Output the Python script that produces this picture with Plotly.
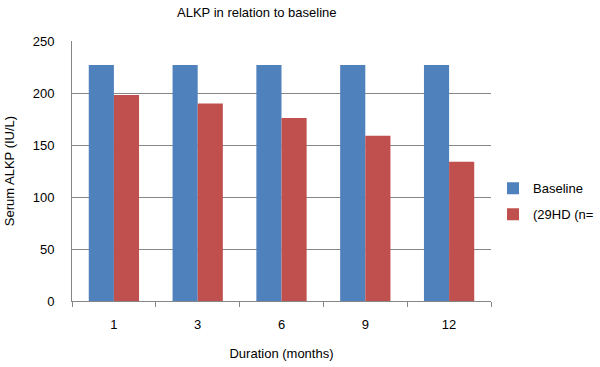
import plotly.graph_objects as go

categories = ["1", "3", "6", "9", "12"]
baseline = [227, 227, 227, 227, 227]
hd29 = [198, 190, 176, 159, 134]
series_names = ["Baseline", "(29HD (n="]
yticks = [0, 50, 100, 150, 200, 250]

FONT = "Liberation Sans"
GRID = "#868686"

fig = go.Figure()
fig.add_trace(go.Bar(x=categories, y=baseline, name=series_names[0],
                     marker=dict(color="#4F81BD", line=dict(width=0)), legendgroup="a"))
fig.add_trace(go.Bar(x=categories, y=hd29, name=series_names[1],
                     marker=dict(color="#C0504D", line=dict(width=0)), legendgroup="b"))

fig.update_layout(
    width=600, height=367,
    margin=dict(l=72, r=109, t=41, b=66, autoexpand=False),
    paper_bgcolor="white", plot_bgcolor="white",
    font=dict(family=FONT, size=13, color="#000000"),
    barmode="group", bargap=0.4, bargroupgap=0,
    title=dict(text="ALKP in relation to baseline", x=0.428, xanchor="center",
               xref="container", y=0.965, yanchor="middle",
               font=dict(size=13, family=FONT)),
    legend=dict(x=493 / 600, xref="container", xanchor="left", y=0.383, yanchor="middle",
                font=dict(size=13, family=FONT), tracegroupgap=6,
                traceorder="grouped", bgcolor="rgba(0,0,0,0)"),
    xaxis=dict(type="category", showline=True, linecolor=GRID, linewidth=1,
               ticks="outside", tickson="boundaries", ticklen=5, tickcolor=GRID,
               showgrid=False, ticklabelstandoff=11, automargin=False,
               title=dict(text="Duration (months)", standoff=18, font=dict(size=13))),
    yaxis=dict(range=[0, 250], tickvals=yticks, showline=True, linecolor=GRID,
               linewidth=1, showgrid=True, gridcolor=GRID, gridwidth=1,
               ticks="", ticklabelstandoff=14, zeroline=False, automargin=False,
               title=dict(text="Serum ALKP (IU/L)", standoff=15, font=dict(size=13))),
)
fig.write_html("out.html", config={"displayModeBar": False})
with open("out.html", encoding="utf-8") as f:
    html = f.read()
html = html.replace("<head>", "<head><style>html,body{margin:0;padding:0;overflow:hidden;}</style>", 1)
with open("out.html", "w", encoding="utf-8") as f:
    f.write(html)
